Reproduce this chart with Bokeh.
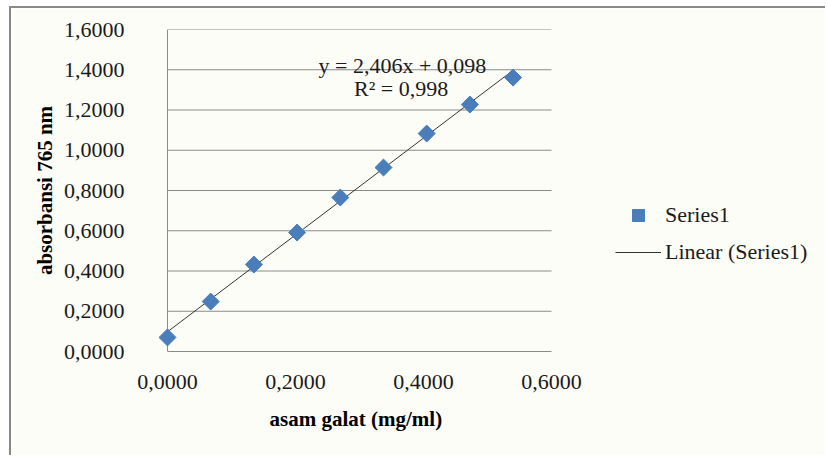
from bokeh.plotting import figure
from bokeh.models import (FixedTicker, CustomJSTickFormatter, Legend, LegendItem,
                          Label, Range1d, Title)
from bokeh.embed import file_html
from bokeh.resources import INLINE

# ---- data ----
conc = [0.0, 0.0675, 0.135, 0.2025, 0.27, 0.3375, 0.405, 0.4725, 0.54]
absorb = [0.070, 0.248, 0.432, 0.591, 0.765, 0.914, 1.083, 1.227, 1.361]
slope = 2.406
intercept = 0.098
r2 = 0.998
x_ticks = [0.0, 0.2, 0.4, 0.6]
y_ticks = [0.0, 0.2, 0.4, 0.6, 0.8, 1.0, 1.2, 1.4, 1.6]
series_name = "Series1"
trend_name = "Linear (Series1)"
x_title = "asam galat (mg/ml)"
y_title = "absorbansi 765 nm"

FONT = "Liberation Serif"
BG = "#fdfdf8"
GRID = "#8a8a8a"
BLUE = "#4a7ebb"
FS = "22px"

# plot area is 384 px for 0..0.6; the frame starts 10 px left of x=0 (so the
# first marker is not clipped) and runs on to the right edge for the legend
UPP = 0.6 / 384
X_START = -10 * UPP
X_END = X_START + 670 * UPP

p = figure(width=816, height=449, output_backend="svg", toolbar_location=None,
           x_range=Range1d(X_START, X_END), y_range=Range1d(0, 1.6),
           min_border_left=146, min_border_right=0,
           min_border_top=21, min_border_bottom=106,
           background_fill_color=BG, border_fill_color=BG)
p.styles = {"margin-left": "9px", "margin-top": "6px",
            "border-left": "2px solid #898989", "border-top": "2px solid #898989"}
p.outline_line_alpha = 0

fmt = CustomJSTickFormatter(code="return tick.toFixed(4).replace('.', ',');")
for ax in (p.xaxis[0], p.yaxis[0]):
    ax.formatter = fmt
    ax.major_tick_line_alpha = 0
    ax.minor_tick_line_alpha = 0
    ax.axis_line_color = GRID
    ax.major_label_text_font = FONT
    ax.major_label_text_font_size = FS
    ax.major_label_text_color = "#1a1a1a"
    ax.axis_label_text_font = FONT
    ax.axis_label_text_font_size = "21px"
    ax.axis_label_text_font_style = "bold"
    ax.axis_label_text_color = "#000000"
p.xaxis[0].ticker = FixedTicker(ticks=x_ticks)
p.yaxis[0].ticker = FixedTicker(ticks=y_ticks)
p.xaxis[0].bounds = (x_ticks[0], x_ticks[-1])
p.yaxis[0].axis_line_alpha = 0
p.yaxis[0].axis_label = y_title
p.xaxis[0].major_label_standoff = 17
p.yaxis[0].major_label_standoff = 27
p.yaxis[0].axis_label_standoff = 4

# x-axis title centred under the plot area (not the whole frame)
p.add_layout(Title(text=x_title, align="left", offset=112, standoff=26,
                   text_font=FONT, text_font_size="21px",
                   text_font_style="bold", text_color="#000000"), "below")

# horizontal gridlines and the vertical axis line across the plot area only
p.xgrid.grid_line_alpha = 0
p.ygrid.grid_line_alpha = 0
p.segment(x0=x_ticks[0], x1=x_ticks[-1], y0=y_ticks[1:], y1=y_ticks[1:],
          line_color=GRID, line_width=1)
p.segment(x0=[x_ticks[0]], x1=[x_ticks[0]], y0=[y_ticks[0]], y1=[y_ticks[-1]],
          line_color=GRID, line_width=1)

tx = [min(conc), max(conc)]
ty = [slope * v + intercept for v in tx]
trend = p.line(tx, ty, line_color="#333333", line_width=1)
pts = p.scatter(conc, absorb, marker="square", size=12, angle=0.785398,
                fill_color=BLUE, line_color=BLUE)

eq = "y = " + f"{slope:.3f}".replace(".", ",") + "x + " + f"{intercept:.3f}".replace(".", ",")
rr = "R² = " + f"{r2:.3f}".replace(".", ",")
p.add_layout(Label(x=0.367, y=1.421, text=eq, text_align="center",
                   text_baseline="alphabetic", text_font=FONT,
                   text_font_size=FS, text_color="#1a1a1a"))
p.add_layout(Label(x=0.365, y=1.307, text=rr, text_align="center",
                   text_baseline="alphabetic", text_font=FONT,
                   text_font_size=FS, text_color="#1a1a1a"))

legend = Legend(items=[LegendItem(label=series_name, renderers=[pts]),
                       LegendItem(label=trend_name, renderers=[trend])],
                location=(458, 84), padding=0, margin=0, spacing=7,
                glyph_width=46, glyph_height=30, label_height=30,
                label_standoff=4, border_line_alpha=0, background_fill_alpha=0,
                label_text_font=FONT, label_text_font_size=FS,
                label_text_color="#1a1a1a")
p.add_layout(legend, "center")

open("out.html", "w").write(file_html(p, INLINE))
